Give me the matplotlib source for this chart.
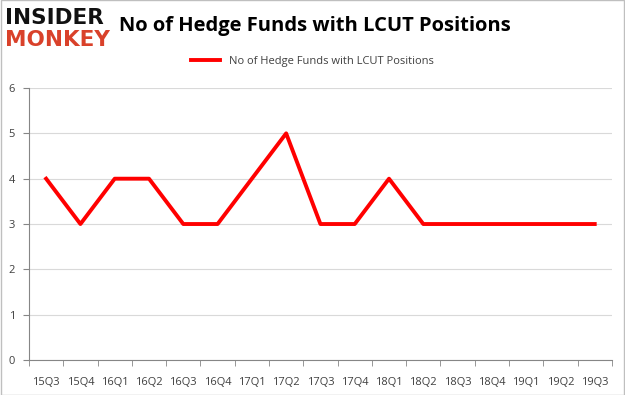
import matplotlib
matplotlib.use("Agg")
import matplotlib.pyplot as plt
import numpy as np

quarters = ["15Q3", "15Q4", "16Q1", "16Q2", "16Q3", "16Q4", "17Q1", "17Q2", "17Q3",
            "17Q4", "18Q1", "18Q2", "18Q3", "18Q4", "19Q1", "19Q2", "19Q3"]
funds = [4, 3, 4, 4, 3, 3, 4, 5, 3, 3, 4, 3, 3, 3, 3, 3, 3]
series_name = "No of Hedge Funds with LCUT Positions"

plt.rcParams['font.family'] = ['Open Sans', 'DejaVu Sans']

fig = plt.figure(figsize=(6.25, 3.95), dpi=100)
ax = fig.add_axes([0.0464, 0.0886, 0.9326, 0.6885])

x = np.arange(len(quarters))
line, = ax.plot(x, funds, color='#ff0000', linewidth=2.8, label=series_name)

ax.set_xlim(-0.5, len(quarters) - 0.5)
ax.set_ylim(0, 6)
ax.set_yticks(range(0, 7))
ax.yaxis.grid(True, color='#d9d9d9', linewidth=0.8)
ax.set_axisbelow(True)

ax.set_xticks(x)
ax.set_xticklabels(quarters)
ax.set_xticks(np.arange(-0.5, len(quarters)), minor=True)
ax.tick_params(axis='x', which='major', length=0, pad=12, labelsize=8, labelcolor='#404040')
ax.tick_params(axis='x', which='minor', length=4, color='#868686')
ax.tick_params(axis='y', length=4, color='#868686', labelsize=8, labelcolor='#404040', pad=6)

for s in ['top', 'right']:
    ax.spines[s].set_visible(False)
for s in ['left', 'bottom']:
    ax.spines[s].set_color('#868686')
    ax.spines[s].set_linewidth(0.8)

fig.legend(handles=[line], loc='center', bbox_to_anchor=(0.5, 0.845), frameon=False,
           fontsize=8, handlelength=2.6, labelcolor='#404040')

fig.text(0.19, 0.935, series_name, fontsize=14.5, fontweight='bold', color='#000000',
         ha='left', va='center')

# logo
fig.text(0.008, 0.955, "INSIDER", fontsize=15.5, fontweight='heavy', color='#111111',
         ha='left', va='center', family='DejaVu Sans')
fig.text(0.008, 0.898, "MONKEY", fontsize=15.5, fontweight='heavy', color='#d9412a',
         ha='left', va='center', family='DejaVu Sans')

# outer border
fig.patches.append(plt.Rectangle((0.001, 0.001), 0.998, 0.998, transform=fig.transFigure,
                                 fill=False, edgecolor='#bfbfbf', linewidth=1))

fig.savefig("out.png", dpi=100)
